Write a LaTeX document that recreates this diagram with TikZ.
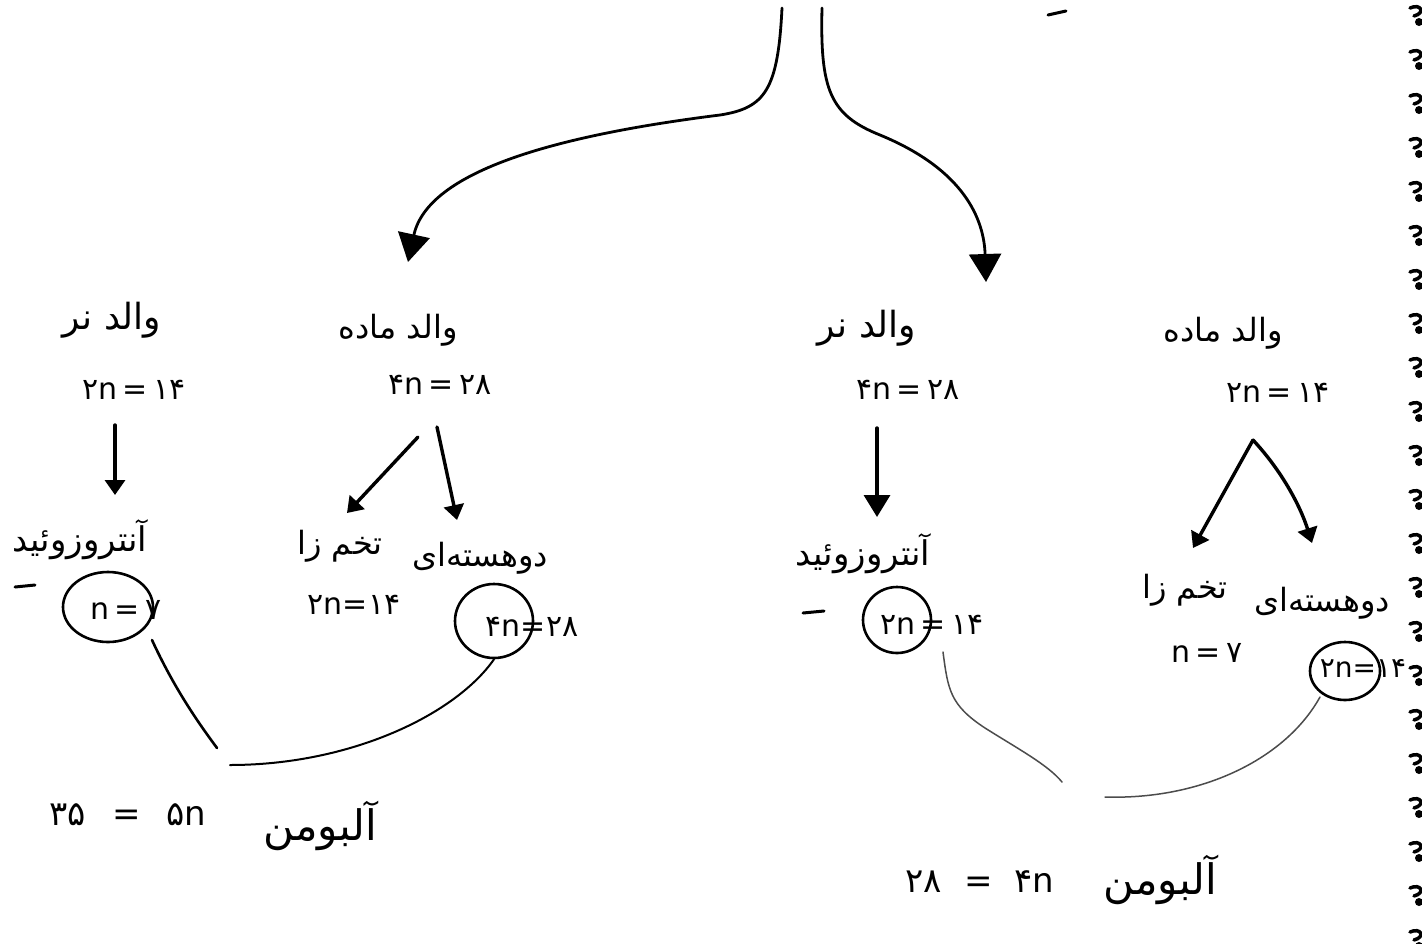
\documentclass[tikz,border=0pt]{standalone}
\usepackage{fontspec}
\setmainfont{DejaVu Sans}
\newfontfamily\fa[Script=Arabic]{DejaVu Sans}
\TeXXeTstate=1
\usetikzlibrary{arrows.meta,shapes.geometric,calc}
\newcommand{\rtltext}[1]{{\beginR #1\endR}}
\begin{document}
\begin{tikzpicture}[x=1pt,y=-1pt,
  word/.style={font=\fa\fontsize{32}{38}\selectfont, inner sep=0pt},
  bigword/.style={font=\fa\fontsize{36}{42}\selectfont, inner sep=0pt},
  eqn/.style={font=\fa\fontsize{30}{34}\selectfont, inner sep=0pt},
  pen/.style={line width=3.4pt, line cap=round, line join=round},
  fine/.style={line width=1.5pt, line cap=round, black!70},
  ring/.style={draw, ellipse, line width=2.6pt, inner sep=0pt},
  tipS/.style={-{Triangle[width=20pt,length=15pt]}},
  tipM/.style={-{Triangle[width=26pt,length=22pt]}},
  tipB/.style={-{Triangle[width=32pt,length=28pt]}},
]
\useasboundingbox (0,0) rectangle (1422,943);
\fill[white] (0,0) rectangle (1422,943);

% ---- group A (left) ----
\node[bigword] (A1) at (112,320) {\rtltext{والد نر}};
\node[eqn] (A2) at (134,390) {۲n\,=\,۱۴};
\node[word, font=\fa\fontsize{34}{40}\selectfont] (A3) at (80,540) {\rtltext{آنتروزوئید}};
\node[eqn] (A4) at (126,610) {n\,=\,۷};
\node[ring, minimum width=90pt, minimum height=70pt] (Ac) at (108,607) {};

% ---- group B ----
\node[word] (B1) at (398,330) {\rtltext{والد ماده}};
\node[eqn] (B2) at (440,385) {۴n\,=\,۲۸};
\node[word] (B3) at (340,546) {\rtltext{تخم زا}};
\node[eqn] (B4) at (354,605) {۲n=۱۴};
\node[word] (B5) at (480,558) {\rtltext{دوهسته^^^^200cای}};
\node[eqn] (B6) at (532,627) {۴n=۲۸};
\node[ring, minimum width=78pt, minimum height=74pt] (Bc) at (494,621) {};

% ---- group C ----
\node[bigword] (C1) at (867,328) {\rtltext{والد نر}};
\node[eqn] (C2) at (908,390) {۴n\,=\,۲۸};
\node[word, font=\fa\fontsize{34}{40}\selectfont] (C3) at (863,554) {\rtltext{آنتروزوئید}};
\node[eqn] (C4) at (932,625) {۲n\,=\,۱۴};
\node[ring, minimum width=68pt, minimum height=66pt] (Cc) at (897,620) {};

% ---- group D ----
\node[word] (D1) at (1223,333) {\rtltext{والد ماده}};
\node[eqn] (D2) at (1278,393) {۲n\,=\,۱۴};
\node[word] (D3) at (1185,590) {\rtltext{تخم زا}};
\node[eqn] (D4) at (1207,653) {n\,=\,۷};
\node[word] (D5) at (1322,603) {\rtltext{دوهسته^^^^200cای}};
\node[eqn, font=\fa\fontsize{28}{32}\selectfont] (D6) at (1363,668) {۲n=۱۴};
\node[ring, minimum width=70pt, minimum height=58pt] (Dc) at (1345,671) {};

% ---- bottom labels ----
\node[eqn, font=\fa\fontsize{34}{40}\selectfont] (Leq) at (128,815) {۳۵\hspace{26pt}=\hspace{26pt}۵n};
\node[word, font=\fa\fontsize{42}{48}\selectfont] (Lw) at (320,826) {\rtltext{آلبومن}};
\node[eqn, font=\fa\fontsize{34}{40}\selectfont] (Req) at (980,882) {۲۸\hspace{22pt}=\hspace{22pt}۴n};
\node[word, font=\fa\fontsize{42}{48}\selectfont] (Rw) at (1160,880) {\rtltext{آلبومن}};

% ---- top connectors ----
\coordinate (srcL) at (782,8);
\coordinate (tipL) at (408,262);
\draw[pen, line width=2.8pt, tipB] (srcL) .. controls (778,90) and (765,108) .. (720,115) .. controls (560,135) and (428,170) .. (tipL);
\coordinate (srcR) at (822,8);
\coordinate (tipR) at (986,282);
\draw[pen, line width=2.8pt, tipB] (srcR) .. controls (820,90) and (830,115) .. (880,135) .. controls (965,170) and (984,220) .. (tipR);

% ---- group arrows ----
\draw[pen, tipS] ($(A2)+(-19,35)$) -- ($(A3)+(35,-45)$);
\draw[pen, tipS] ($(B2)+(-22,52)$) -- ($(B3)+(7,-33)$);
\draw[pen, tipS] ($(B2)+(-3,42)$) -- ($(B5)+(-23,-38)$);
\draw[pen, tipM] ($(C2)+(-31,38)$) -- ($(C3)+(14,-37)$);
\draw[pen, tipS] ($(D2)+(-25,47)$) -- ($(D3)+(8,-42)$);
\draw[pen, tipS] ($(D2)+(-25,47)$) .. controls (1281,470) and (1300,505) .. ($(D5)+(-10,-60)$);

% ---- bottom connectors ----
\coordinate (jL1) at (217,748);
\draw[pen, line width=2.6pt] ($(Ac)+(44,33)$) .. controls (175,690) and (200,725) .. (jL1);
\coordinate (jL2) at (230,765);
\draw[line width=2pt, line cap=round] (Bc.south) .. controls (455,715) and (350,765) .. (jL2);
\coordinate (jR1) at (1062,782);
\draw[fine] ($(Cc)+(46,32)$) .. controls (948,690) and (950,705) .. (985,728) .. controls (1020,750) and (1048,765) .. (jR1);
\coordinate (jR2) at (1105,797);
\draw[fine] ($(Dc)+(-25,26)$) .. controls (1285,760) and (1200,800) .. (jR2);

% ---- small strokes ----
\draw[pen, line width=3pt] (15,587) -- (35,585);
\draw[pen, line width=3pt] (803,613) -- (824,611);
\draw[pen, line width=3pt] (1048,15) -- (1066,11);

% ---- notebook binding marks ----
\foreach \y in {14,58,...,938} {
  \draw[line width=3.5pt, line cap=round] (1410,\y-6) .. controls (1421,\y-11) and (1426,\y-1) .. (1414,\y+2);
  \fill (1419,\y+8) circle (4);
}
\end{tikzpicture}
\end{document}
